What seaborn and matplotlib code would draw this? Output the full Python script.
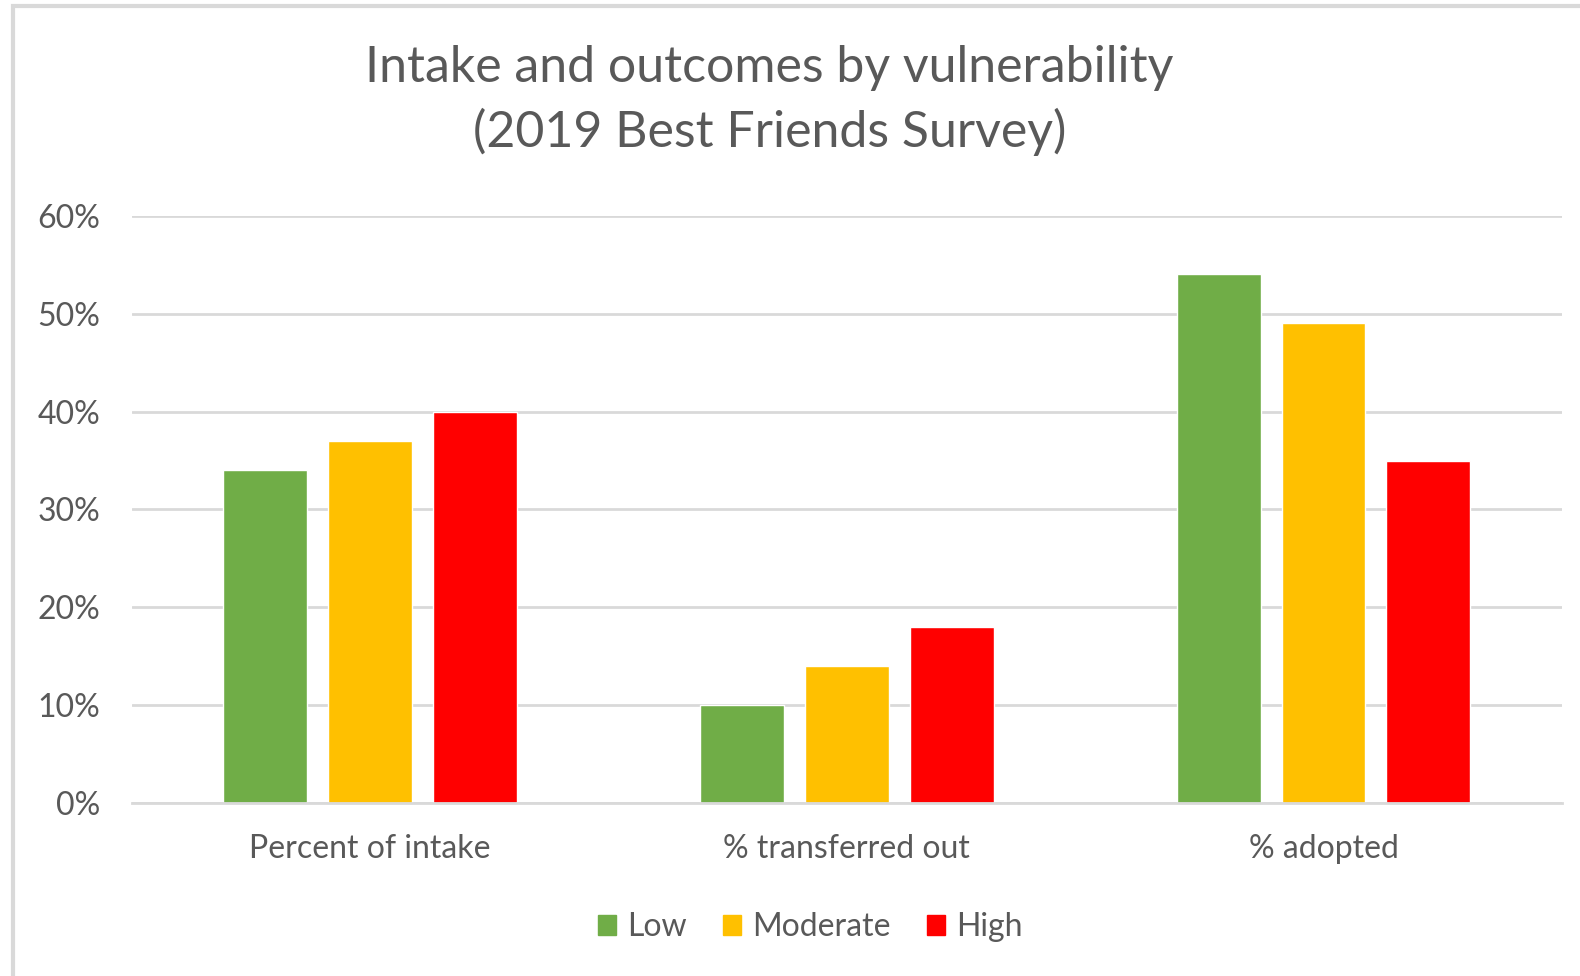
import matplotlib
matplotlib.use("Agg")
import matplotlib.pyplot as plt
import matplotlib.patches as mpatches
import pandas as pd
import seaborn as sns
from matplotlib.ticker import FuncFormatter

categories = ["Percent of intake", "% transferred out", "% adopted"]
levels = ["Low", "Moderate", "High"]
low_vals = [34, 10, 54]
moderate_vals = [37, 14, 49]
high_vals = [40, 18, 35]
palette = ["#70AD47", "#FFC000", "#FF0000"]

df = pd.DataFrame({
    "category": categories * 3,
    "level": [lv for lv in levels for _ in categories],
    "value": low_vals + moderate_vals + high_vals,
})

sns.set_theme(style="white")
plt.rcParams['font.family'] = ['Lato', 'DejaVu Sans']

text_col = "#595959"
grid_col = "#d9d9d9"

fig = plt.figure(figsize=(15.8, 9.76), dpi=100)
ax = fig.add_axes([0.0835, 0.177, 0.905, 0.602])

sns.barplot(data=df, x="category", y="value", hue="level", order=categories,
            hue_order=levels, palette=palette, width=0.66, gap=0.2,
            saturation=1, ax=ax, legend=False)

ax.set_ylim(0, 60)
ax.set_xlim(-0.5, 2.5)
ax.set_yticks(range(0, 61, 10))
ax.yaxis.set_major_formatter(FuncFormatter(lambda v, _: f"{v:.0f}%"))
ax.yaxis.grid(True, color=grid_col, linewidth=2)
ax.set_axisbelow(True)
for s in ["top", "right", "left"]:
    ax.spines[s].set_visible(False)
ax.spines["bottom"].set_color(grid_col)
ax.spines["bottom"].set_linewidth(2)
ax.tick_params(axis="both", length=0, labelsize=23, colors=text_col)
ax.tick_params(axis="y", pad=23)
ax.tick_params(axis="x", pad=22)
ax.set_xlabel("")
ax.set_ylabel("")

fig.text(0.487, 0.897, "Intake and outcomes by vulnerability\n(2019 Best Friends Survey)",
         ha="center", va="center", fontsize=36, color=text_col, linespacing=1.42)

handles = [mpatches.Patch(color=c, label=l) for c, l in zip(palette, levels)]
fig.legend(handles=handles, loc="center", bbox_to_anchor=(0.513, 0.05), ncol=3,
           frameon=False, fontsize=23, labelcolor=text_col, handlelength=0.55,
           handleheight=0.55, handletextpad=0.35, columnspacing=1.15)

# chart frame
fig.patches.append(mpatches.Rectangle((0.008, -0.01), 1.1, 1.004, transform=fig.transFigure,
                                      fill=False, edgecolor="#d9d9d9", linewidth=3))

fig.savefig("out.png", dpi=100)
